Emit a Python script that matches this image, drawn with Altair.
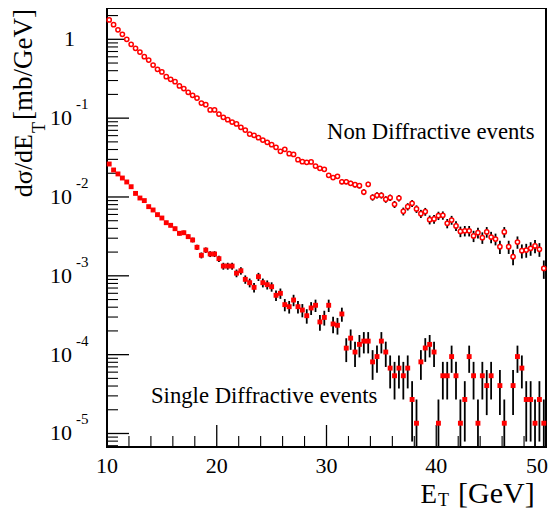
import altair as alt
import pandas as pd

# ---------------- data ----------------
E_T = [10.2, 10.6, 11.0, 11.4, 11.8, 12.2, 12.6, 13.0, 13.4, 13.8,
       14.2, 14.6, 15.0, 15.4, 15.8, 16.2, 16.6, 17.0, 17.4, 17.8,
       18.2, 18.6, 19.0, 19.4, 19.8, 20.2, 20.6, 21.0, 21.4, 21.8,
       22.2, 22.6, 23.0, 23.4, 23.8, 24.2, 24.6, 25.0, 25.4, 25.8,
       26.2, 26.6, 27.0, 27.4, 27.8, 28.2, 28.6, 29.0, 29.4, 29.8,
       30.2, 30.6, 31.0, 31.4, 31.8, 32.2, 32.6, 33.0, 33.4, 33.8,
       34.2, 34.6, 35.0, 35.4, 35.8, 36.2, 36.6, 37.0, 37.4, 37.8,
       38.2, 38.6, 39.0, 39.4, 39.8, 40.2, 40.6, 41.0, 41.4, 41.8,
       42.2, 42.6, 43.0, 43.4, 43.8, 44.2, 44.6, 45.0, 45.4, 45.8,
       46.2, 46.6, 47.0, 47.4, 47.8, 48.2, 48.6, 49.0, 49.4, 49.8]

# Non diffractive events [mb/GeV]
nd_val = [1.76, 1.53, 1.32, 1.156, 1.00, 0.863, 0.768, 0.690, 0.602, 0.546,
          0.472, 0.416, 0.385, 0.336, 0.311, 0.290, 0.256, 0.237, 0.2125, 0.195,
          0.180, 0.1555, 0.148, 0.127, 0.127, 0.1128, 0.1024, 0.0957, 0.0893, 0.0843,
          0.0765, 0.0707, 0.0629, 0.0605, 0.0565, 0.0528, 0.0493, 0.0461, 0.0426, 0.0379,
          0.0402, 0.0354, 0.0347, 0.0297, 0.0280, 0.0275, 0.0278, 0.0247, 0.0231, 0.0224,
          0.0188, 0.0176, 0.0183, 0.0156, 0.0156, 0.0149, 0.0143, 0.0139, 0.01156, 0.01446,
          0.0099, 0.0105, 0.0105, 0.00933, 0.0098, 0.00807, 0.0097, 0.00658, 0.00754, 0.0083,
          0.00705, 0.00614, 0.00652, 0.00515, 0.00526, 0.0058, 0.00585, 0.00463, 0.0051, 0.0043,
          0.00365, 0.00372, 0.00372, 0.0032, 0.00352, 0.00305, 0.0036, 0.0031, 0.00293, 0.00234,
          0.0036, 0.00234, 0.00175, 0.00268, 0.00208, 0.00212, 0.00223, 0.00239, 0.00217, 0.00124]
nd_err = [0.01223, 0.0114, 0.01059, 0.00991, 0.00922, 0.00856, 0.00808, 0.00766, 0.00715, 0.00681,
          0.00633, 0.00595, 0.00572, 0.00534, 0.00514, 0.00496, 0.00466, 0.00449, 0.00425, 0.00407,
          0.00391, 0.00364, 0.00355, 0.00329, 0.00329, 0.00310, 0.00295, 0.00285, 0.00276, 0.00268,
          0.00255, 0.00245, 0.00231, 0.00227, 0.00219, 0.00212, 0.00205, 0.00198, 0.00190, 0.00179,
          0.00185, 0.00173, 0.00172, 0.00159, 0.00154, 0.00153, 0.00154, 0.00145, 0.00140, 0.00138,
          0.00126, 0.00122, 0.00125, 0.00115, 0.00115, 0.00113, 0.00110, 0.00109, 0.000991, 0.00111,
          0.000917, 0.000945, 0.000945, 0.000891, 0.000913, 0.000828, 0.000908, 0.000748, 0.000801, 0.000840,
          0.000774, 0.000722, 0.000744, 0.000662, 0.000669, 0.000702, 0.000705, 0.000627, 0.000658, 0.000605,
          0.000557, 0.000562, 0.000562, 0.000522, 0.000547, 0.000509, 0.000553, 0.000513, 0.000499, 0.000446,
          0.000553, 0.000446, 0.000386, 0.000477, 0.000420, 0.000425, 0.000435, 0.000451, 0.000429, 0.000325]

# Single diffractive events [mb/GeV]  (None = empty bin)
sd_val = [0.0262, 0.0220, 0.0196, 0.0174, 0.0155, 0.0135, 0.0111, 0.0097, 0.0090, 0.00754,
          0.00684, 0.00597, 0.00541, 0.00472, 0.00437, 0.00396, 0.00346, 0.00352, 0.00314, 0.00285,
          0.00230, 0.00182, 0.00212, 0.00189, 0.00189, 0.00165, 0.00133, 0.00133, 0.00133, 0.00108,
          0.00116, 0.000902, 0.000818, 0.000714, 0.000975, 0.000818, 0.000772, 0.000728, 0.000566, 0.000600,
          0.000431, 0.000406, 0.000493, 0.000406, 0.000368, 0.000312, 0.000391, 0.000423, 0.000260, 0.000297,
          0.000423, 0.000245, 0.000236, 0.000328, 0.000121, 0.000162, 0.000108, 0.000135, 0.0001485, 0.0001485,
          0.0000810, 0.0000945, 0.0001485, 0.000108, 0.0000675, 0.0000540, 0.0000675, 0.0000540, 0.0000675, 0.0000270,
          0.0000135, 0.0000810, 0.0001215, 0.000135, 0.000108, 0.0000135, 0.0000540, 0.0000540, 0.0000945, 0.0000540,
          0.0000135, 0.0000270, 0.0000945, 0.0000540, 0.0000135, 0.0000540, 0.0000405, 0.0000540, None, 0.0000405,
          0.0000135, None, 0.0000405, 0.0000945, 0.0000675, 0.0000270, 0.0000270, 0.0000135, 0.0000270, 0.0000135]
sd_err = [5.95e-4, 5.45e-4, 5.14e-4, 4.85e-4, 4.57e-4, 4.27e-4, 3.87e-4, 3.62e-4, 3.49e-4, 3.19e-4,
          3.04e-4, 2.84e-4, 2.70e-4, 2.52e-4, 2.43e-4, 2.31e-4, 2.16e-4, 2.18e-4, 2.06e-4, 1.96e-4,
          1.76e-4, 1.57e-4, 1.69e-4, 1.60e-4, 1.60e-4, 1.49e-4, 1.34e-4, 1.34e-4, 1.34e-4, 1.21e-4,
          1.25e-4, 1.10e-4, 1.05e-4, 9.82e-5, 1.15e-4, 1.05e-4, 1.02e-4, 9.91e-5, 8.74e-5, 9.00e-5,
          7.63e-5, 7.40e-5, 8.16e-5, 7.40e-5, 7.05e-5, 6.49e-5, 7.27e-5, 7.56e-5, 5.92e-5, 6.33e-5,
          7.56e-5, 5.75e-5, 5.64e-5, 6.65e-5, 4.05e-5, 4.68e-5, 3.82e-5, 4.27e-5, 4.48e-5, 4.48e-5,
          3.31e-5, 3.57e-5, 4.48e-5, 3.82e-5, 3.02e-5, 2.70e-5, 3.02e-5, 2.70e-5, 3.02e-5, 1.91e-5,
          1.35e-5, 3.31e-5, 4.05e-5, 4.27e-5, 3.82e-5, 1.35e-5, 2.70e-5, 2.70e-5, 3.57e-5, 2.70e-5,
          1.35e-5, 1.91e-5, 3.57e-5, 2.70e-5, 1.35e-5, 2.70e-5, 2.34e-5, 2.70e-5, None, 2.34e-5,
          1.35e-5, None, 2.34e-5, 3.57e-5, 3.02e-5, 1.91e-5, 1.91e-5, 1.35e-5, 1.91e-5, 1.35e-5]

# axis ticks / labels
x_major = [10, 20, 30, 40, 50]
x_minor = [12, 14, 16, 18, 22, 24, 26, 28, 32, 34, 36, 38, 42, 44, 46, 48]
y_major = [1, 0.1, 0.01, 0.001, 0.0001, 0.00001]
y_exp = ["", "-1", "-2", "-3", "-4", "-5"]
y_minor = [7e-6, 8e-6, 9e-6,
           2e-5, 3e-5, 4e-5, 5e-5, 6e-5, 7e-5, 8e-5, 9e-5,
           2e-4, 3e-4, 4e-4, 5e-4, 6e-4, 7e-4, 8e-4, 9e-4,
           2e-3, 3e-3, 4e-3, 5e-3, 6e-3, 7e-3, 8e-3, 9e-3,
           2e-2, 3e-2, 4e-2, 5e-2, 6e-2, 7e-2, 8e-2, 9e-2,
           0.2, 0.3, 0.4, 0.5, 0.6, 0.7, 0.8, 0.9, 2.0]

# ---------------- layout ----------------
W, H = 439, 439
FONT = "Liberation Serif, DejaVu Serif, serif"
xs = alt.Scale(domain=[10, 50], nice=False, zero=False)
ys = alt.Scale(type="log", domain=[6.74e-6, 2.495], nice=False)

nd = pd.DataFrame({"E": E_T, "v": nd_val, "e": nd_err})
nd["lo"] = (nd["v"] - nd["e"]).clip(lower=1e-8)
nd["hi"] = nd["v"] + nd["e"]

sd = pd.DataFrame({"E": E_T, "v": sd_val, "e": sd_err}).dropna()
sd["lo"] = (sd["v"] - sd["e"]).clip(lower=1e-8)
sd["hi"] = sd["v"] + sd["e"]

X = lambda f: alt.X(f, type="quantitative", scale=xs, axis=None)
Y = lambda f: alt.Y(f, type="quantitative", scale=ys, axis=None)

# ticks (drawn inside the frame)
yt_major = alt.Chart(pd.DataFrame({"v": y_major})).mark_rule(color="black", strokeWidth=1.3).encode(
    y=Y("v"), x=alt.value(0), x2=alt.value(22))
yt_minor = alt.Chart(pd.DataFrame({"v": y_minor})).mark_rule(color="black", strokeWidth=1.1).encode(
    y=Y("v"), x=alt.value(0), x2=alt.value(11))
xt_major = alt.Chart(pd.DataFrame({"v": x_major})).mark_rule(color="black", strokeWidth=1.3).encode(
    x=X("v"), y=alt.value(H), y2=alt.value(H - 22))
xt_minor = alt.Chart(pd.DataFrame({"v": x_minor})).mark_rule(color="black", strokeWidth=1.1).encode(
    x=X("v"), y=alt.value(H), y2=alt.value(H - 11))

# tick labels
xlab_df = pd.DataFrame({"v": x_major, "t": [str(v) for v in x_major]})
xlab = alt.Chart(xlab_df[xlab_df["v"] < 50]).mark_text(
    font=FONT, fontSize=22, align="center", baseline="alphabetic", color="black").encode(
    x=X("v"), y=alt.value(H + 26), text="t:N")
xlab_last = alt.Chart(xlab_df[xlab_df["v"] == 50]).mark_text(
    font=FONT, fontSize=22, align="right", baseline="alphabetic", color="black", dx=2).encode(
    x=X("v"), y=alt.value(H + 26), text="t:N")
ylab_df = pd.DataFrame({"v": y_major, "exp": y_exp})
ylab_one = alt.Chart(ylab_df[ylab_df["v"] == 1]).mark_text(
    font=FONT, fontSize=22, align="right", baseline="middle", color="black").encode(
    y=Y("v"), x=alt.value(-32), text=alt.value("1"))
ylab_ten = alt.Chart(ylab_df[ylab_df["v"] < 1]).mark_text(
    font=FONT, fontSize=22, align="right", baseline="middle", color="black").encode(
    y=Y("v"), x=alt.value(-35), text=alt.value("10"))
ylab_exp = alt.Chart(ylab_df[ylab_df["v"] < 1]).mark_text(
    font=FONT, fontSize=15, align="left", baseline="middle", dy=-14, color="black").encode(
    y=Y("v"), x=alt.value(-31), text="exp:N")

# axis titles (with subscripts)
def txt(s, x, y, size, angle=0, align="left"):
    kw = dict(font=FONT, fontSize=size, align=align, baseline="alphabetic", color="black")
    if angle:
        kw["angle"] = angle
    return alt.Chart(pd.DataFrame({"t": [s]})).mark_text(**kw).encode(
        text="t:N", x=alt.value(x), y=alt.value(y))

ytitle = (txt("dσ/dE", -75, 126, 26, 270, "right") + txt("T", -62, 125, 18, 270)
          + txt("[mb/GeV]", -75, 112, 27, 270))
xtitle = (txt("E", 330, 495, 27, 0, "right") + txt("T", 331, 498, 18)
          + txt("[GeV]", 351, 495, 30))

ann = (txt("Non Diffractive events", 220, 131, 22.7)
       + txt("Single Diffractive events", 44, 395, 22.7))

# data
nd_bars = alt.Chart(nd).mark_rule(color="black", strokeWidth=1.8, clip=True).encode(
    x=X("E"), y=Y("lo"), y2="hi")
sd_bars = alt.Chart(sd).mark_rule(color="black", strokeWidth=1.8, clip=True).encode(
    x=X("E"), y=Y("lo"), y2="hi")
nd_pts = alt.Chart(nd).mark_point(shape="circle", filled=True, fill="white", stroke="#ff0000",
                                  strokeWidth=1.5, size=18, opacity=1).encode(x=X("E"), y=Y("v"))
sd_pts = alt.Chart(sd).mark_point(shape="square", filled=True, fill="#ff0000", stroke="#ff0000",
                                  strokeWidth=0, size=24, opacity=1).encode(x=X("E"), y=Y("v"))

chart = alt.layer(
    yt_major, yt_minor, xt_major, xt_minor,
    nd_bars, sd_bars, nd_pts, sd_pts,
    xlab, xlab_last, ylab_one, ylab_ten, ylab_exp, ytitle, xtitle, ann,
).properties(
    width=W, height=H,
    autosize=alt.AutoSizeParams(type="none"),
    padding={"left": 99, "top": 0, "right": 2, "bottom": 64},
    background="white",
).configure_view(stroke="black", strokeWidth=2)

chart.save("out.html", embed_options={"renderer": "svg", "actions": False})
